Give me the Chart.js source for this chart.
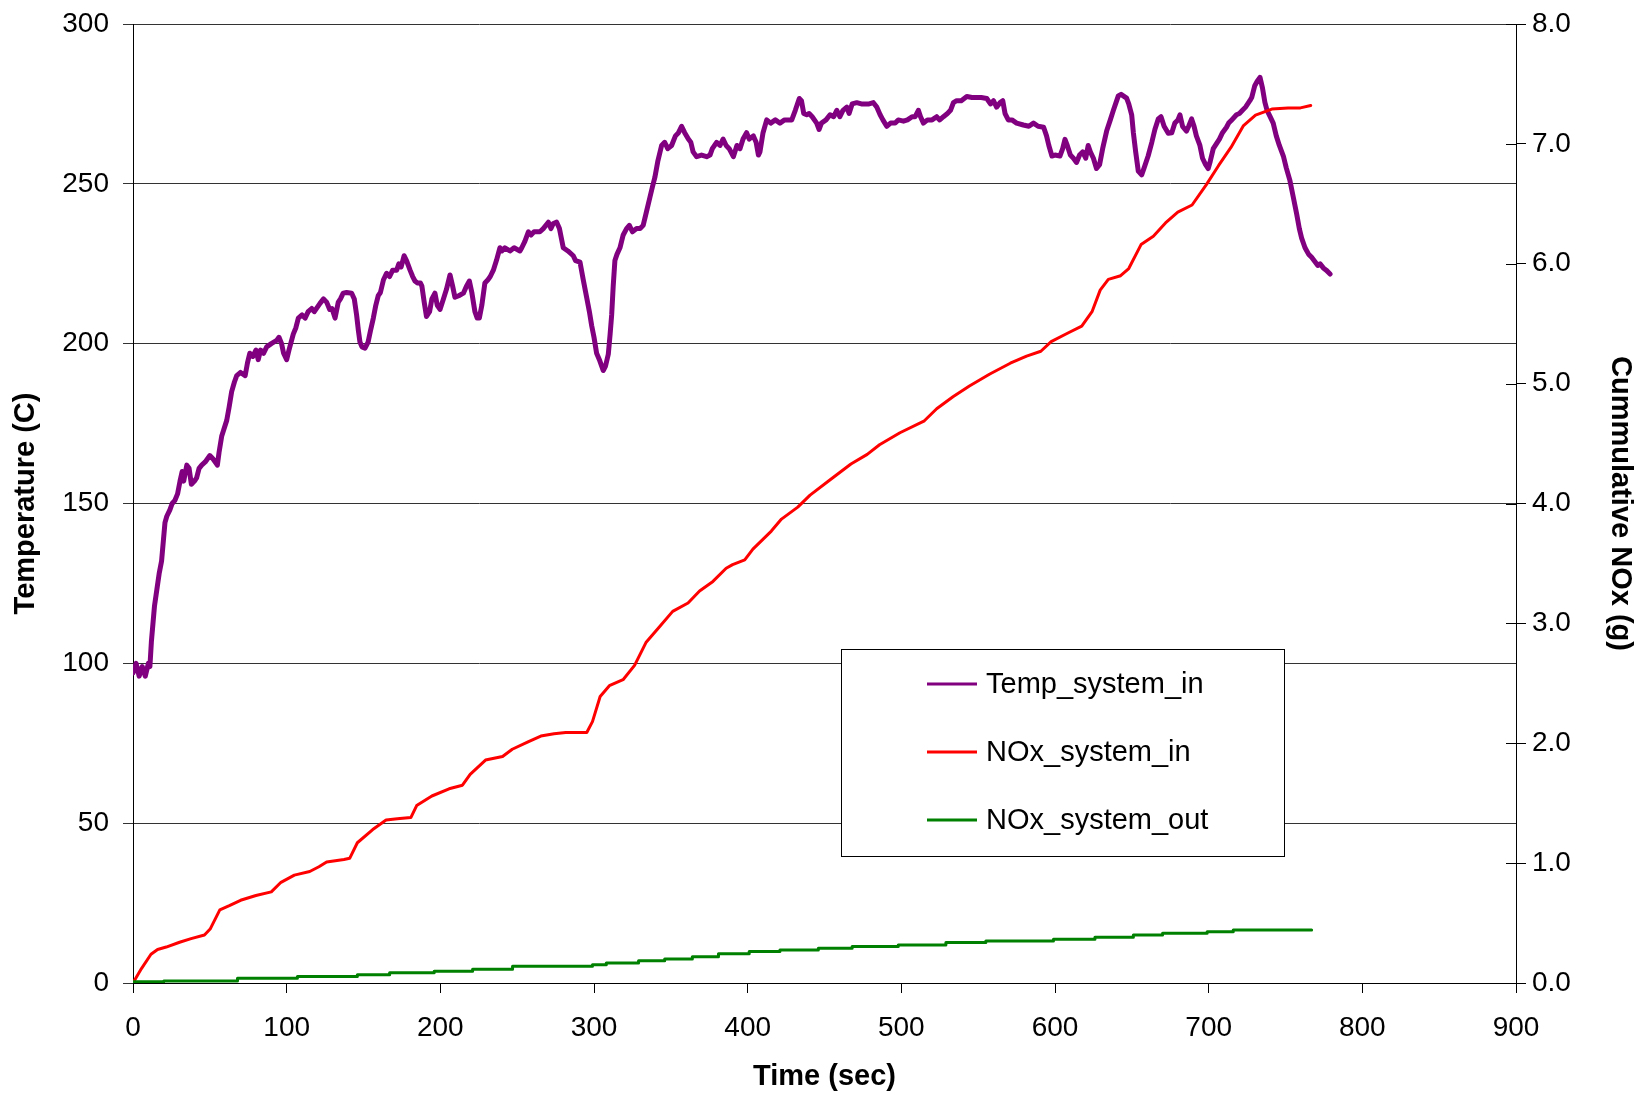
<!DOCTYPE html>
<html>
<head>
<meta charset="utf-8">
<script src="https://cdn.jsdelivr.net/npm/chart.js@4.4.1/dist/chart.umd.min.js"></script>
<style>
  html, body { margin: 0; padding: 0; background: #fff; }
  #wrap { width: 1639px; height: 1094px; position: relative; }
</style>
</head>
<body>
<div id="wrap"><canvas id="chart"></canvas></div>
<script>
// ───── DATA ─────
const SERIES_NAMES = ["Temp_system_in", "NOx_system_in", "NOx_system_out"];

// Temp_system_in (C) vs time (sec)
const tTemp = [0,2,4,6,8,10,11,12,14,15.5,17,18.6,20.8,22,24,25.5,27.3,29,30.6,32,33,35,36.5,38,40,41.4,43,44.7,47,50,52,54.9,56,57.7,59,61,62.5,64.2,66,67.5,70,73,74.5,76,78,80,81.5,83,85,87,90,93.5,95,96.7,98,100,101.5,104.3,106,107.6,110,112,114,116.3,118,121.7,124,126,128,129.5,131.5,133.6,135,136.8,139,142.3,144,145.5,146.7,147.7,149,151,153,154.5,156.4,158,159.6,161,163,165,167,169,171.6,173,174.5,176.4,178,180.3,182,183.5,185,187,188,189.5,191,193,194.5,196.5,198,199.8,202,204,206.3,208,209.5,212,215,217,218.9,220.5,222.5,224,225.4,227,229,231,232.5,234.5,236.5,238.8,240,242,245.3,248,251.8,253,255,257.3,259,261,264.8,267,270.3,272,273.5,275.7,277.5,280,283,286.5,288,290.9,293,295.2,297,298.5,300,301.7,303.5,306,307.5,309.3,310.5,311.5,312.5,313.6,315,316.9,319,321.2,323,325,327.7,330,332,334,336.4,338,339.6,341.5,344,346,348,350.5,353,355,357,359,361.4,363,364.5,366.8,370,373.3,375.5,377,379.8,382,384,386,388,390.7,393,395,397,399.3,401,403.7,405.5,407,408,410,412.4,415,418,421,424,426,428.7,431,433.6,435,436.5,438.4,440,442,444.9,446.5,448,451,453.6,456,458,460,462,464.5,466,468,471,474,477,479,481.8,484,486.2,488,490.5,493,496,498,501.4,504,507,509,511.1,512.5,514.4,517,520,523,525,527.4,530,532,533.9,536,539,542.6,546,549,552,555.6,558,560,562,564.3,566,567.5,569.6,572,575,579.4,583,586,589,592.6,594.5,596,598,600,603.2,605,606.5,608,610,612,614,616,618,620,621.6,623,625,627,629,631,633.6,636,638,641.2,643,646.6,648,649.9,651,652.5,654.2,656.4,658,660.6,663,665,667.2,669,671,673.7,676,678,680,681.3,683,685.6,687,688.9,690.5,692,694.3,696,698,699.7,701,703,705.1,707,709,711.6,713,715,718.1,720,722,724,726.8,728,730,731.5,733.4,735,736.6,738,740,742,744,746,748.6,750.5,752.9,755,757.3,759,760.5,762.7,765,767,769.2,771,772.5,774.6,776.5,779];
const tempC = [97,100,96,99,96,100,99,107,118,123,128,132,144,146,148,150,151,153,157,160,157,162,161,156,157,158,161,162,163,165,164,162,166,171,173,176,180,185,188,190,191,190,194,197,196,198,195,198,197,199,200,201,202,200,197,195,198,203,205,208,209,208,210,211,210,212.6,214,213,210.7,211,208,213,214,215.8,216,215.8,214,209,204,200.5,199,198.6,200.5,204,208,212,215,216,220,222,221,223,223,225,224,227.5,226,223,221,219.6,219,219,218,213,208.5,210,214,215.8,212,210.7,214,217,221.5,218,214.5,215,215.8,218,219.6,216,210,208,208,212,219,220,221,223,226,230,229,230,229,230,229,230,232,235,234,235,235,236,238,236,237.6,238,236,230,229,227.5,226,225.5,220,214.5,210,205.6,202,197,195,191.6,193,196.7,203,209,218,226,228,230,234,236,237,235,236,236,237,241,245.8,249,252,257,262,263,261,262,265,266,268,266,264,263,260,258.5,259,258.5,259,261,263,262,264,262,261,258.5,262,261,264,266,264,265,263,259,260,266,270,269,270,269,270,270,270,273,276.7,276,272,271.6,272,271,269,267,269,270,271.6,271,273,271,273,274,272,275,275.4,275,275,275,275.4,274,271.6,270,268,269,269,270,269.6,270,271,271,273,271,269,270,270,271,270,271,272,273,275.4,276,276,277.3,277,277,277,276.7,275,276,274,275.4,276,272,270,270,269,268.4,268,269,268,267.7,265,262,258.7,259,258.7,261,263.9,262,259,258,256.7,259,260,258,262,260,258,254.8,256,261,266.5,270,273,277.5,278,276.8,275,271.6,266,260,254,252.8,255,258.7,263,267,270.3,271,268,265.8,266,269,270,271.6,268,266.5,268,270.3,268,265,262,258,256,254.8,257,261,262.6,264,266,267.7,269,270,271.6,272,273,274,276,277,280.7,282,283.3,280,275.5,273,271,269,265,262,258.7,255,251,246,240.5,236,233,230,228,227,225.6,224.5,225,223.7,223,221.8];

// NOx_system_in (g, cumulative) vs time (sec)
const tNoxIn = [0,5.5,11.7,16,21.6,30.3,37.8,46.5,50.2,56.5,62.7,70,80,90,96.3,105,115,121,126,137.3,141,146,156,164.7,172,180.8,184.6,194.5,205.7,214.4,219.4,229.4,240.5,246.8,256.7,265.4,274,281.6,295.3,299,304,310,318.9,326.4,333.8,342.5,351.2,361.2,368.7,377.4,386,390.2,398.1,403.4,415.4,422,432.6,440.6,453.9,467.2,477.8,485.8,499.1,515,523,533.6,544.3,557.6,570.9,581.5,590.8,597.5,608.1,617.4,624.1,629.4,634.7,642.7,648,656,664,671.9,679.9,689.2,698.5,706.5,714.5,722.5,730.5,741.1,751.7,759.7,766.4];
const noxIn = [0,0.12,0.24,0.28,0.30,0.34,0.37,0.40,0.45,0.61,0.645,0.69,0.73,0.76,0.84,0.90,0.93,0.97,1.01,1.03,1.04,1.17,1.28,1.36,1.37,1.38,1.48,1.56,1.62,1.65,1.74,1.86,1.89,1.95,2.01,2.06,2.08,2.09,2.09,2.18,2.39,2.48,2.53,2.65,2.84,2.97,3.10,3.17,3.27,3.35,3.46,3.49,3.53,3.62,3.77,3.87,3.97,4.07,4.20,4.33,4.41,4.49,4.59,4.69,4.79,4.89,4.98,5.08,5.17,5.23,5.27,5.35,5.42,5.48,5.60,5.78,5.87,5.90,5.96,6.16,6.23,6.34,6.43,6.49,6.66,6.82,6.97,7.15,7.24,7.29,7.30,7.30,7.32];

// NOx_system_out (g, cumulative, stepped) vs time (sec)
const tNoxOut = [0,20,68,107,146,167,196,221,247,299,308,329,346,364,381,401,421,446,468,498,529,555,599,626,651,670,699,716,731,767];
const noxOut = [0,0.01,0.016,0.04,0.055,0.068,0.085,0.098,0.114,0.14,0.153,0.166,0.186,0.20,0.22,0.243,0.262,0.276,0.29,0.304,0.318,0.337,0.351,0.365,0.381,0.40,0.414,0.428,0.442,0.442];

const X_TICK_STEP  = 100;
const Y_TICK_STEP  = 50;
const Y1_TICK_STEP = 1;

// ───── CHART ─────
const COLORS = ["#800080", "#ff0000", "#008000"];
const FONT = "'Liberation Sans', Arial, sans-serif";
Chart.defaults.font.family = FONT;
Chart.defaults.color = "#000";

const pts = (xs, ys) => xs.map((x, i) => ({ x, y: ys[i] }));

// fixed plot box: axes get exact sizes, no label overflow padding
function fixW(w) { return s => { s.width = w; s.paddingTop = 0; s.paddingBottom = 0; }; }
function fixH(h) { return s => { s.height = h; s.paddingLeft = 0; s.paddingRight = 0; }; }

// right axis: ticks cross the axis line
const crossTicks = {
    id: "crossTicks",
    afterDraw(chart) {
        const ctx = chart.ctx, ca = chart.chartArea, s = chart.scales.y1;
        ctx.save();
        ctx.strokeStyle = "#000";
        ctx.lineWidth = 1;
        s.ticks.forEach(t => {
            const y = Math.round(s.getPixelForValue(t.value)) + 0.5;
            ctx.beginPath();
            ctx.moveTo(ca.right - 10, y);
            ctx.lineTo(ca.right, y);
            ctx.stroke();
        });
        ctx.restore();
    }
};

// boxed legend inside the plot, like the Excel one
const boxLegend = {
    id: "boxLegend",
    afterDraw(chart) {
        const ctx = chart.ctx;
        const bx = 841.5, by = 649.5, bw = 443, bh = 207;
        ctx.save();
        ctx.fillStyle = "#fff";
        ctx.fillRect(bx, by, bw, bh);
        ctx.strokeStyle = "#000";
        ctx.lineWidth = 1;
        ctx.strokeRect(bx, by, bw, bh);
        ctx.font = "29px " + FONT;
        ctx.textBaseline = "middle";
        ctx.textAlign = "left";
        chart.data.datasets.forEach((ds, i) => {
            const y = 684 + i * 68;
            ctx.strokeStyle = ds.borderColor;
            ctx.lineWidth = 3;
            ctx.beginPath();
            ctx.moveTo(927, y);
            ctx.lineTo(977, y);
            ctx.stroke();
            ctx.fillStyle = "#000";
            ctx.fillText(ds.label, 986, y + 1);
        });
        ctx.restore();
    }
};

new Chart(document.getElementById("chart").getContext("2d"), {
    type: "line",
    data: {
        datasets: [
            { label: SERIES_NAMES[0], data: pts(tTemp, tempC),    yAxisID: "y",  borderColor: COLORS[0], borderWidth: 5, order: 3 },
            { label: SERIES_NAMES[1], data: pts(tNoxIn, noxIn),   yAxisID: "y1", borderColor: COLORS[1], borderWidth: 3, order: 2 },
            { label: SERIES_NAMES[2], data: pts(tNoxOut, noxOut), yAxisID: "y1", borderColor: COLORS[2], borderWidth: 3, order: 1, stepped: "after" },
        ]
    },
    options: {
        responsive: true, maintainAspectRatio: false, animation: false,
        layout: { padding: { top: 24, left: 0, right: 0, bottom: 0 } },
        elements: { point: { radius: 0 }, line: { tension: 0, fill: false, borderJoinStyle: "round", borderCapStyle: "round" } },
        plugins: { legend: { display: false }, tooltip: { enabled: false } },
        scales: {
            x: {
                type: "linear", position: "bottom", min: 0, max: 900,
                afterFit: fixH(111),
                ticks: { stepSize: X_TICK_STEP, padding: 18, maxRotation: 0, font: { size: 28 } },
                grid: { drawOnChartArea: false, drawTicks: true, tickLength: 10, color: "#000" },
                border: { display: true, color: "#000", width: 1 },
                title: { display: true, text: "Time (sec)", font: { size: 29, weight: "bold" }, padding: { top: 0, bottom: 0 } }
            },
            y: {
                type: "linear", position: "left", min: 0, max: 300,
                afterFit: fixW(133),
                ticks: { stepSize: Y_TICK_STEP, padding: 14, font: { size: 28 } },
                grid: { drawOnChartArea: true, drawTicks: true, tickLength: 10, color: "#333", lineWidth: 1 },
                border: { display: true, color: "#000", width: 1 },
                title: { display: true, text: "Temperature (C)", font: { size: 29, weight: "bold" }, padding: { top: 9, bottom: 0 } }
            },
            y1: {
                type: "linear", position: "right", min: 0, max: 8,
                afterFit: fixW(123),
                ticks: { stepSize: Y1_TICK_STEP, padding: 6, font: { size: 28 }, callback: v => Number(v).toFixed(1) },
                grid: { drawOnChartArea: false, drawTicks: true, tickLength: 10, color: "#000" },
                border: { display: true, color: "#000", width: 1 },
                title: { display: true, text: "Cummulative NOx (g)", font: { size: 29, weight: "bold" }, padding: { top: 2, bottom: 0 } }
            }
        }
    },
    plugins: [crossTicks, boxLegend]
});
</script>
</body>
</html>
